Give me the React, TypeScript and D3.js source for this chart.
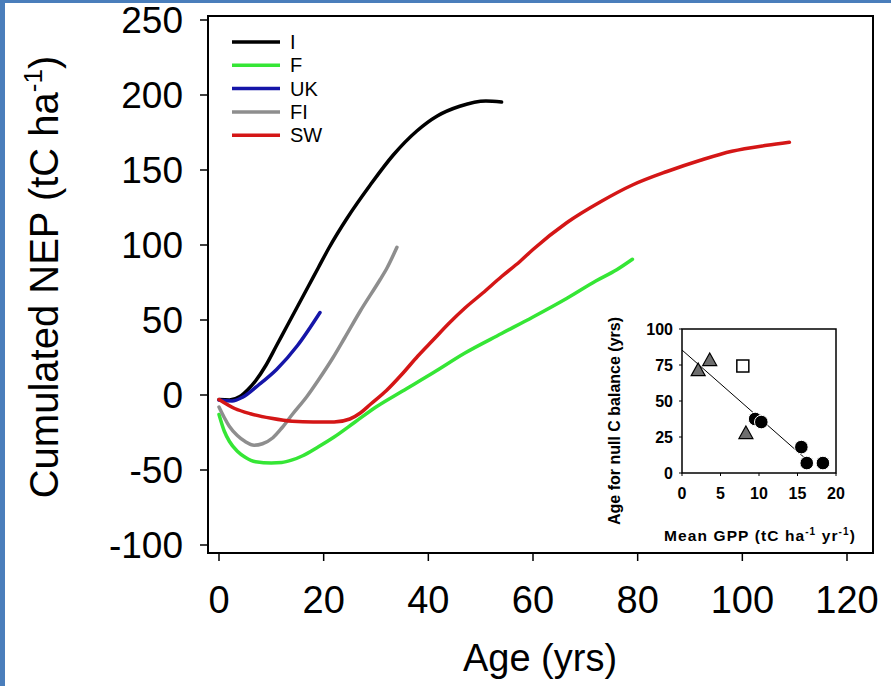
import React from 'react';
import * as d3 from 'd3';

// ---------- Main chart data ----------
const ageTicks = [0, 20, 40, 60, 80, 100, 120];
const nepTicks = [-100, -50, 0, 50, 100, 150, 200, 250];
const seriesNames = ['I', 'F', 'UK', 'FI', 'SW'];

const seriesI: [number, number][] = [
  [0, -3], [2, -3.3], [4, -1], [5.5, 3.5], [7, 9.5], [9, 20], [11, 33], [13, 46], [15, 59],
  [17, 72], [19, 85], [21, 98], [24.5, 118], [28.9, 140], [33.3, 160], [37.8, 176],
  [41.7, 186], [46, 192.5], [51, 196], [54, 195.3],
];
const seriesF: [number, number][] = [
  [0, -13], [1, -24], [2, -31], [3.5, -37.5], [5, -41.5], [7, -44.5], [10, -45.3],
  [12, -45], [14, -43.3], [16, -40.5], [19, -34.5], [22, -28], [26, -18], [30, -8], [35, 2.5],
  [41, 15], [47, 28], [54, 41], [60, 52], [66.5, 64.5], [72, 76], [76, 83.5], [79, 90.5],
];
const seriesUK: [number, number][] = [
  [0, -3.4], [2.5, -4], [4.5, -1.5], [7.5, 6.5], [11, 17], [15, 33], [19.3, 55],
];
const seriesFI: [number, number][] = [
  [0, -8], [1, -15], [2, -21], [3.5, -27], [5, -31], [6.7, -33.5], [8.3, -32.5],
  [10.3, -28.5], [12, -22], [14, -13], [16.8, -1], [19, 10], [21.8, 25], [24, 38],
  [27, 56], [30.8, 77], [32, 84], [34, 98.5],
];
const seriesSW: [number, number][] = [
  [0, -3], [3, -9], [6, -12.5], [10, -15.5], [14, -17.5], [18, -18], [22, -18],
  [25, -16], [27, -12], [29, -6], [32, 3], [35, 14], [38, 26], [41, 37], [44, 48],
  [47, 58], [50.4, 68], [54, 79], [57.5, 89], [60, 97], [66.5, 115], [73, 129],
  [79, 140], [85.6, 149], [92, 156.5], [98, 162.5], [104.7, 166.5], [109, 168.5],
];
const seriesData = [seriesI, seriesF, seriesUK, seriesFI, seriesSW];

// ---------- Inset data ----------
const gppTicks = [0, 5, 10, 15, 20];
const nullAgeTicks = [0, 25, 50, 75, 100];
const insetTriangles: [number, number][] = [[3.6, 78.5], [2.1, 71.5], [8.3, 27.8]];
const insetSquares: [number, number][] = [[7.9, 74.3]];
const insetCircles: [number, number][] = [[9.5, 37.5], [10.3, 35.4], [15.5, 18], [16.2, 6.9], [18.3, 6.9]];
const insetRegression: [number, number][] = [[0, 85.4], [17, 5.5]];

// ---------- Styles ----------
const seriesColors = ['#000000', '#35e635', '#1515a8', '#8e8e8e', '#d41616'];
const FONT = '"Liberation Sans", Arial, Helvetica, sans-serif';

export default function App() {
  const W = 891, H = 686;
  const x = d3.scaleLinear().domain([0, 120]).range([219, 847]);
  const y = d3.scaleLinear().domain([0, -100]).range([395, 545]);
  const frame = { left: 208, top: 16, right: 873, bottom: 553 };

  const line = d3.line<[number, number]>()
    .x(d => x(d[0]))
    .y(d => y(d[1]))
    .curve(d3.curveMonotoneX);

  // inset scales
  const ix = d3.scaleLinear().domain([0, 20]).range([682, 836]);
  const iy = d3.scaleLinear().domain([0, 100]).range([473, 329]);
  const iline = d3.line<[number, number]>().x(d => ix(d[0])).y(d => iy(d[1]));

  const legendX0 = 232, legendX1 = 280, legendY0 = 42, legendDy = 23.3;

  const tri = (cx: number, cy: number) => {
    const s = 7;
    return `M${cx},${cy - s} L${cx + s * 1.0},${cy + s * 0.8} L${cx - s * 1.0},${cy + s * 0.8} Z`;
  };

  return (
    <svg width={W} height={H} style={{ position: 'absolute', left: 0, top: 0, background: '#fff' }}
      fontFamily={FONT}>
      <rect x={0} y={0} width={W} height={H} fill="#ffffff" />
      {/* blue slide border */}
      <rect x={0} y={0} width={W} height={3} fill="#4a7ebb" />
      <rect x={0} y={0} width={5} height={H} fill="#4a7ebb" />

      {/* frame */}
      <rect x={frame.left} y={frame.top} width={frame.right - frame.left} height={frame.bottom - frame.top}
        fill="none" stroke="#000" strokeWidth={2} />

      {/* y ticks */}
      {nepTicks.map(t => (
        <g key={'y' + t}>
          <line x1={200} x2={frame.left} y1={y(t)} y2={y(t)} stroke="#000" strokeWidth={1.5} />
          <text x={183} y={y(t)} dy="0.36em" textAnchor="end" fontSize={37} fill="#000">{t}</text>
        </g>
      ))}
      {/* x ticks */}
      {ageTicks.map(t => (
        <g key={'x' + t}>
          <line x1={x(t)} x2={x(t)} y1={frame.bottom} y2={561} stroke="#000" strokeWidth={1.5} />
          <text x={x(t)} y={613} textAnchor="middle" fontSize={38} fill="#000">{t}</text>
        </g>
      ))}

      {/* axis titles */}
      <text x={540} y={671} textAnchor="middle" fontSize={38} fill="#000">Age (yrs)</text>
      <text transform="translate(58,277) rotate(-90)" textAnchor="middle" fontSize={40} fill="#000">
        Cumulated NEP (tC ha<tspan fontSize={26} dy={-16}>-1</tspan><tspan dy={16}>)</tspan>
      </text>

      {/* series */}
      {seriesData.map((s, i) => (
        <path key={'s' + i} d={line(s) || ''} fill="none" stroke={seriesColors[i]} strokeWidth={3.5}
          strokeLinejoin="round" strokeLinecap="round" />
      ))}

      {/* legend */}
      {seriesNames.map((n, i) => (
        <g key={'l' + n}>
          <line x1={legendX0} x2={legendX1} y1={legendY0 + i * legendDy} y2={legendY0 + i * legendDy}
            stroke={seriesColors[i]} strokeWidth={3.5} />
          <text x={290} y={legendY0 + i * legendDy + 7} fontSize={20} fill="#000">{n}</text>
        </g>
      ))}

      {/* inset */}
      <g fontWeight="bold">
        <rect x={ix(0)} y={iy(100)} width={ix(20) - ix(0)} height={iy(0) - iy(100)} fill="#fff"
          stroke="#000" strokeWidth={1.5} />
        {nullAgeTicks.map(t => (
          <g key={'iy' + t}>
            <line x1={ix(0) - 3} x2={ix(0)} y1={iy(t)} y2={iy(t)} stroke="#000" strokeWidth={1} />
            <text x={673} y={iy(t)} dy="0.36em" textAnchor="end" fontSize={16} fill="#000">{t}</text>
          </g>
        ))}
        {gppTicks.map(t => (
          <g key={'ix' + t}>
            <line x1={ix(t)} x2={ix(t)} y1={iy(0)} y2={iy(0) + 3} stroke="#000" strokeWidth={1} />
            <text x={ix(t)} y={499} textAnchor="middle" fontSize={16} fill="#000">{t}</text>
          </g>
        ))}
        <path d={iline(insetRegression) || ''} stroke="#000" strokeWidth={1} fill="none" />
        {insetTriangles.map((p, i) => (
          <path key={'t' + i} d={tri(ix(p[0]), iy(p[1]))} fill="#6e6e6e" stroke="#000" strokeWidth={1.2} />
        ))}
        {insetSquares.map((p, i) => (
          <rect key={'q' + i} x={ix(p[0]) - 6} y={iy(p[1]) - 6} width={12} height={12} fill="#fff"
            stroke="#000" strokeWidth={1.5} />
        ))}
        {insetCircles.map((p, i) => (
          <circle key={'c' + i} cx={ix(p[0])} cy={iy(p[1])} r={6.8} fill="#000" stroke="#fff" strokeWidth={1} />
        ))}
        <text x={760} y={541} textAnchor="middle" fontSize={15.5} letterSpacing={1.1} fill="#000">
          Mean GPP (tC ha<tspan fontSize={10} dy={-6}>-1</tspan><tspan dy={6}> yr</tspan>
          <tspan fontSize={10} dy={-6}>-1</tspan><tspan dy={6}>)</tspan>
        </text>
        <text transform="translate(620,421) rotate(-90)" textAnchor="middle" fontSize={16} fill="#000">
          Age for null C balance (yrs)
        </text>
      </g>
    </svg>
  );
}
